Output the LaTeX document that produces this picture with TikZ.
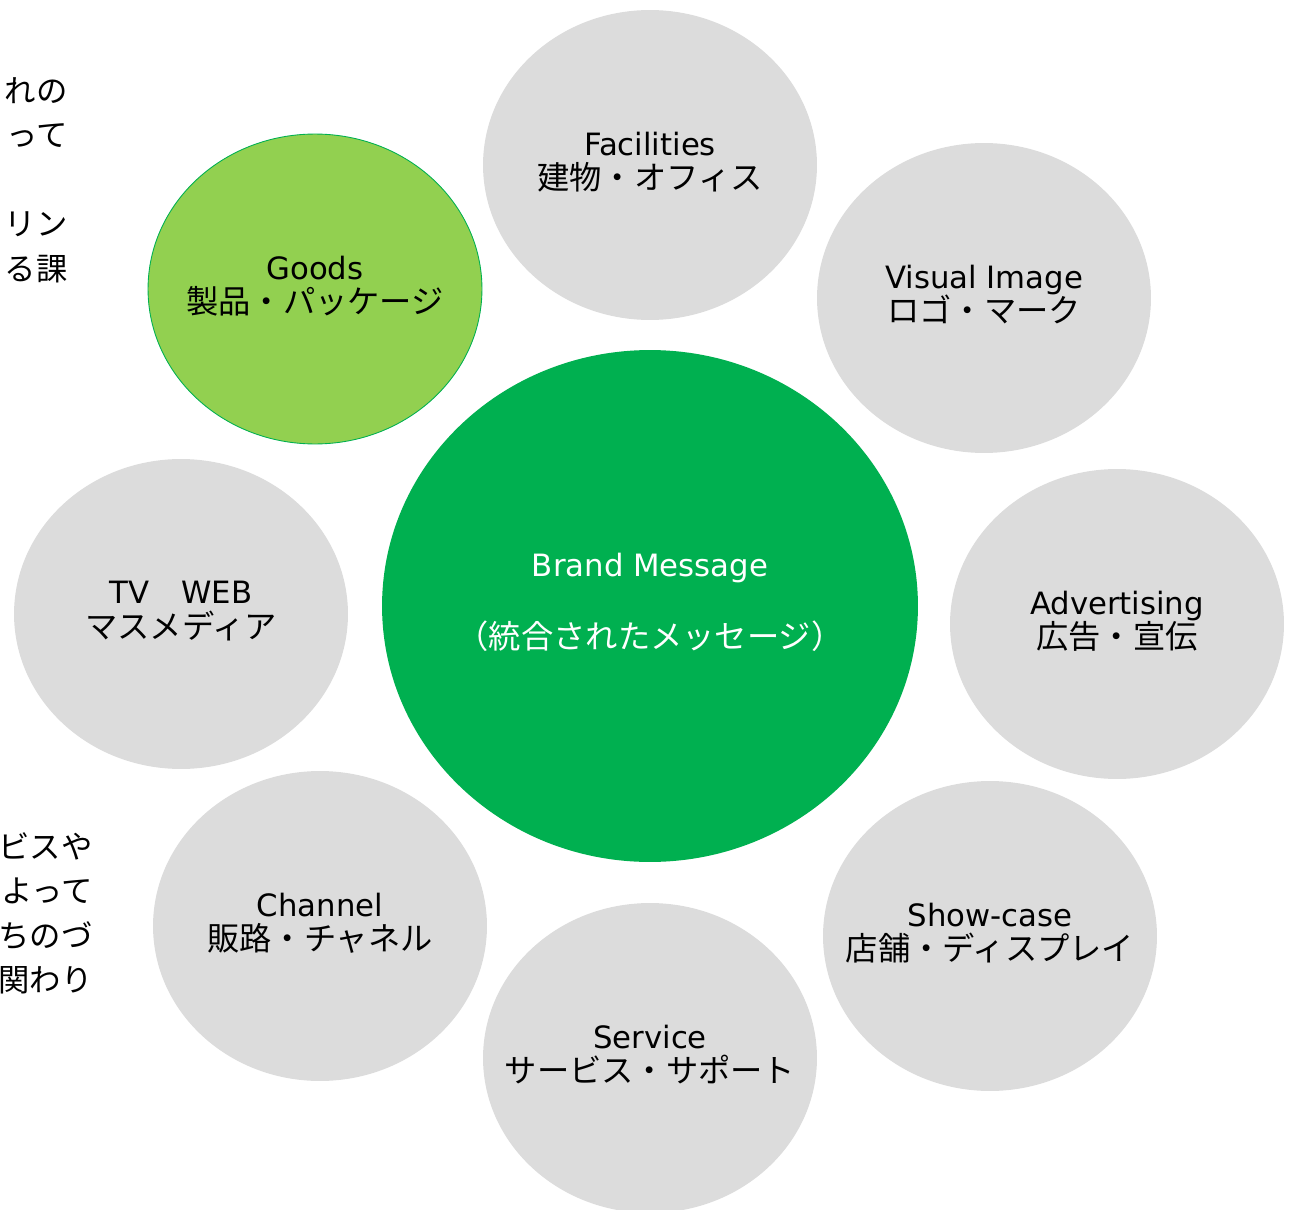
\documentclass[tikz,border=0pt]{standalone}
\usepackage{fontspec}
\setmainfont{DejaVu Sans}
\newfontfamily\cjk[Scale=1.05]{Noto Sans CJK JP}
\usetikzlibrary{shapes.geometric}
\definecolor{gris}{RGB}{220, 220, 220}
\definecolor{lima}{RGB}{146, 208, 80}
\definecolor{verde}{RGB}{0, 176, 80}
\tikzset{
    topic/.style={ellipse, fill=gris, text=black, minimum width=6.68cm, minimum height=6.2cm, inner xsep=-2cm, inner ysep=0pt, text depth=5pt, align=center, font=\fontsize{17.5}{19.6}\selectfont},
    goodsc/.style={topic, fill=lima, draw=verde, line width=0.5pt},
    core/.style={ellipse, fill=verde, text=white, minimum width=10.72cm, minimum height=10.24cm, inner xsep=-2cm, inner ysep=0pt, text depth=6pt, align=center, font=\fontsize{17.5}{19.6}\selectfont},
    side/.style={align=right, inner sep=0pt, font=\cjk\fontsize{17}{25.3}\selectfont},
}
\begin{document}
\begin{tikzpicture}[x=0.02cm, y=-0.02cm]
        \useasboundingbox (0,0) rectangle (1289,1210);
        \clip (0,0) rectangle (1289,1210);

        % left text, cut by the page edge
        \node[side, anchor=north east] (txtA) at (68,77) {れの\\って\\\mbox{}\\リン\\る課};
        \node[side, anchor=north east] (txtB) at (93,832) {ビスや\\よって\\ちのづ\\関わり};

        % ring of topics
        \node[topic] (fac) at (650,165) {Facilities\\{\cjk 建物・オフィス}};
        \node[goodsc] (goods) at (315,289) {Goods\\{\cjk 製品・パッケージ}};
        \node[topic] (vis) at (984,298) {Visual Image\\{\cjk ロゴ・マーク}};
        \node[topic] (tv) at (181,614) {TV{\cjk 　}WEB\\{\cjk マスメディア}};
        \node[topic] (adv) at (1117,624) {Advertising\\{\cjk 広告・宣伝}};
        \node[topic] (chan) at (320,926) {Channel\\{\cjk 販路・チャネル}};
        \node[topic] (show) at (990,936) {Show-case\\{\cjk 店舗・ディスプレイ}};
        \node[topic] (serv) at (650,1058) {Service\\{\cjk サービス・サポート}};

        % center
        \node[core] (brand) at (650,606) {Brand Message\\[21pt]{\cjk （統合されたメッセージ）}};
\end{tikzpicture}
\end{document}
